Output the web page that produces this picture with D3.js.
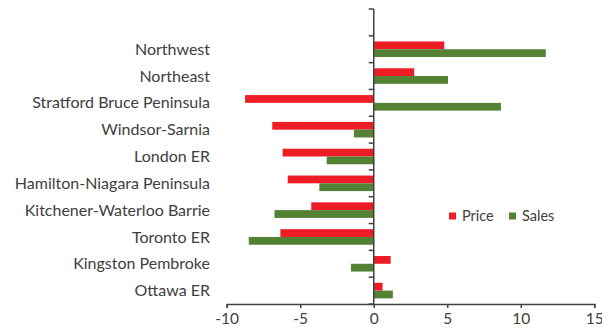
<!DOCTYPE html>
<html>
<head>
<meta charset="utf-8">
<script src="https://cdn.jsdelivr.net/npm/d3@7"></script>
<style>
  body { margin: 0; background: #fff; }
  text { font-family: Lato, "Open Sans", sans-serif; fill: #404040; }
</style>
</head>
<body>
<div id="chart"></div>
<script>
// regions, top to bottom
let categories = ["Northwest", "Northeast", "Stratford Bruce Peninsula", "Windsor-Sarnia", "London ER",
    "Hamilton-Niagara Peninsula", "Kitchener-Waterloo Barrie", "Toronto ER", "Kingston Pembroke", "Ottawa ER"];
let price = [4.8, 2.75, -8.75, -6.9, -6.2, -5.85, -4.25, -6.35, 1.15, 0.6];
let sales = [11.7, 5.05, 8.65, -1.35, -3.2, -3.7, -6.75, -8.5, -1.55, 1.3];
let xTicks = [-10, -5, 0, 5, 10, 15];
let seriesNames = ["Price", "Sales"];
let colors = ["#ee1c25", "#548235"];

let width = 602, height = 336;
let plotTop = 9, plotBottom = 304, plotLeft = 226.7, plotRight = 594.3;

let svg = d3.select("#chart").append("svg")
    .attr("width", width)
    .attr("height", height);

let x = d3.scaleLinear().domain([-10, 15]).range([plotLeft, plotRight]);

// one empty slot above the first region
let step = (plotBottom - plotTop) / (categories.length + 1);
let y = d3.scaleBand()
    .domain(categories)
    .range([plotTop + step, plotBottom])
    .paddingInner(0.42)
    .paddingOuter(0.21);

let inner = d3.scaleBand().domain(seriesNames).range([0, y.bandwidth()]);

let rows = categories.map(function(c, i) {
    return {cat: c, values: [price[i], sales[i]]};
});

let g = svg.selectAll(".row").data(rows).enter().append("g")
    .attr("transform", function(d) { return "translate(0," + y(d.cat) + ")"; });

g.selectAll("rect")
    .data(function(d) { return d.values.map(function(v, k) { return {name: seriesNames[k], v: v, k: k}; }); })
    .enter().append("rect")
    .attr("x", function(d) { return x(Math.min(0, d.v)); })
    .attr("y", function(d) { return inner(d.name); })
    .attr("width", function(d) { return Math.abs(x(d.v) - x(0)); })
    .attr("height", inner.bandwidth())
    .attr("fill", function(d) { return colors[d.k]; });

// x axis
let xAxis = svg.append("g")
    .attr("transform", "translate(0," + plotBottom + ")")
    .call(d3.axisBottom(x).tickValues(xTicks).tickSize(4).tickPadding(5)
        .tickFormat(function(d) { return String(d); }));
xAxis.select(".domain").attr("stroke", "#404040").attr("stroke-width", 1.5);
xAxis.selectAll(".tick line").attr("stroke", "#404040").attr("stroke-width", 1.5);
xAxis.selectAll("text").style("font-size", "15.5px").style("font-family", "Lato, sans-serif").attr("fill", "#404040");

// vertical axis at zero with tick marks between regions
let yTicks = d3.range(categories.length + 2).map(function(i) { return plotTop + i * step; });
let yAxis = svg.append("g");
yAxis.append("line")
    .attr("x1", x(0)).attr("x2", x(0))
    .attr("y1", plotTop).attr("y2", plotBottom)
    .attr("stroke", "#404040").attr("stroke-width", 1.5);
yAxis.selectAll(".yt").data(yTicks).enter().append("line")
    .attr("x1", x(0) - 5).attr("x2", x(0))
    .attr("y1", function(d) { return d; }).attr("y2", function(d) { return d; })
    .attr("stroke", "#404040").attr("stroke-width", 1.5);

// category labels
svg.selectAll(".lab").data(categories).enter().append("text")
    .attr("x", 210)
    .attr("y", function(d) { return y(d) + y.bandwidth() / 2; })
    .attr("dy", "0.35em")
    .attr("text-anchor", "end")
    .style("font-size", "16px")
    .text(function(d) { return d; });

// legend
let leg = svg.selectAll(".leg").data(seriesNames).enter().append("g")
    .attr("transform", function(d, i) { return "translate(" + (449 + i * 60) + ",216)"; });
leg.append("rect").attr("x", 0).attr("y", -3.5).attr("width", 7).attr("height", 7)
    .attr("fill", function(d, i) { return colors[i]; });
leg.append("text").attr("x", 13).attr("dy", "0.35em")
    .style("font-size", "14.5px")
    .text(function(d) { return d; });
</script>
</body>
</html>
